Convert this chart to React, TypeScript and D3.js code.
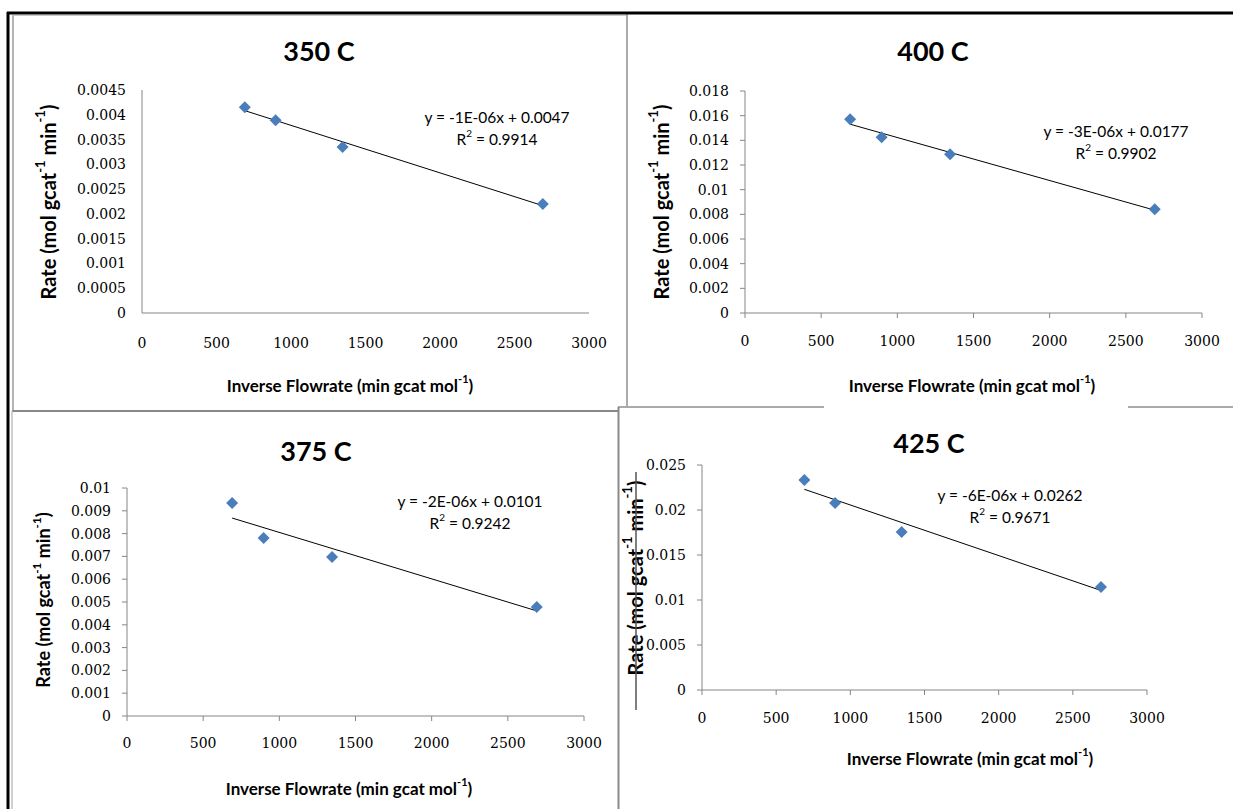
import React from "react";
import * as d3 from "d3";

// ---------- data ----------
const flowrate = [690, 897, 1346, 2690]; // inverse flowrate (min gcat mol-1)
const rate350 = [0.00415, 0.00389, 0.00335, 0.0022];
const rate400 = [0.01571, 0.01425, 0.01287, 0.00842];
const rate375 = [0.00934, 0.00781, 0.00697, 0.00478];
const rate425 = [0.02333, 0.02078, 0.01756, 0.01144];

const xTicks = [0, 500, 1000, 1500, 2000, 2500, 3000];
const yTicks350 = [0, 0.0005, 0.001, 0.0015, 0.002, 0.0025, 0.003, 0.0035, 0.004, 0.0045];
const yTicks400 = [0, 0.002, 0.004, 0.006, 0.008, 0.01, 0.012, 0.014, 0.016, 0.018];
const yTicks375 = [0, 0.001, 0.002, 0.003, 0.004, 0.005, 0.006, 0.007, 0.008, 0.009, 0.01];
const yTicks425 = [0, 0.005, 0.01, 0.015, 0.02, 0.025];

const titles = ["350 C", "400 C", "375 C", "425 C"];
const equations = ["y = -1E-06x + 0.0047", "y = -3E-06x + 0.0177", "y = -2E-06x + 0.0101", "y = -6E-06x + 0.0262"];
const r2Values = ["0.9914", "0.9902", "0.9242", "0.9671"];

// ---------- layout ----------
const layouts = [
  { x0: 142, x1: 589, y0: 313, y1: 90, ticks: false, tx: 319, ty: 50, ex: 497, ey: 117, xlY: 343, xtX: 350, xtY: 385, ytX: 48, ytY: 202, ytSize: 20 },
  { x0: 745, x1: 1202, y0: 313, y1: 91, ticks: true, tx: 933, ty: 50, ex: 1116, ey: 131, xlY: 341, xtX: 972, xtY: 385, ytX: 661, ytY: 202, ytSize: 20 },
  { x0: 127, x1: 584, y0: 716, y1: 488, ticks: true, tx: 316, ty: 450, ex: 470, ey: 501, xlY: 743, xtX: 349, xtY: 788, ytX: 43, ytY: 600, ytSize: 18 },
  { x0: 702, x1: 1147, y0: 690, y1: 465, ticks: true, tx: 929, ty: 442, ex: 1010, ey: 495, xlY: 718, xtX: 970, xtY: 758, ytX: 635, ytY: 578, ytSize: 20 },
];

const panels = [
  { title: titles[0], rates: rate350, yTicks: yTicks350, eq: equations[0], r2: r2Values[0], L: layouts[0] },
  { title: titles[1], rates: rate400, yTicks: yTicks400, eq: equations[1], r2: r2Values[1], L: layouts[1] },
  { title: titles[2], rates: rate375, yTicks: yTicks375, eq: equations[2], r2: r2Values[2], L: layouts[2] },
  { title: titles[3], rates: rate425, yTicks: yTicks425, eq: equations[3], r2: r2Values[3], L: layouts[3] },
];

const AXIS = "#868686";
const MARKER = "#4A7EBB";
const SANS = "Lato, 'Open Sans', sans-serif";
const SERIF = "'DejaVu Serif', serif";

function fit(xs: number[], ys: number[]) {
  const mx = d3.mean(xs) as number;
  const my = d3.mean(ys) as number;
  let sxy = 0, sxx = 0;
  xs.forEach((x, i) => { sxy += (x - mx) * (ys[i] - my); sxx += (x - mx) * (x - mx); });
  const m = sxy / sxx;
  return { m, b: my - m * mx };
}

function Panel({ p }: { p: any }) {
  const L = p.L;
  const x = d3.scaleLinear().domain([0, 3000]).range([L.x0, L.x1]);
  const yMax = p.yTicks[p.yTicks.length - 1];
  const y = d3.scaleLinear().domain([0, yMax]).range([L.y0, L.y1]);
  const { m, b } = fit(flowrate, p.rates);
  const [xa, xb] = d3.extent(flowrate) as [number, number];
  const line = d3.line<[number, number]>().x(d => x(d[0])).y(d => y(d[1]));
  const trend = line([[xa, b + m * xa], [xb, b + m * xb]]) as string;
  const r = 6;
  const diamond = `M0,${-r}L${r},0L0,${r}L${-r},0Z`;
  const ys = L.ytSize;
  return (
    <g>
      <text x={L.tx} y={L.ty} textAnchor="middle" dominantBaseline="central" fontFamily={SANS} fontWeight="bold" fontSize={27}>{p.title}</text>
      {/* axes */}
      <line x1={L.x0} x2={L.x0} y1={y(yMax)} y2={L.y0} stroke={AXIS} strokeWidth={1} />
      <line x1={L.x0} x2={x(3000)} y1={L.y0} y2={L.y0} stroke={AXIS} strokeWidth={1} />
      {p.yTicks.map((t: number) => (
        <g key={"y" + t}>
          {L.ticks && <line x1={L.x0 - 5} x2={L.x0} y1={y(t)} y2={y(t)} stroke={AXIS} />}
          <text x={L.x0 - 16} y={y(t)} textAnchor="end" dominantBaseline="central" fontFamily={SERIF} fontSize={14}>{String(+t.toPrecision(6))}</text>
        </g>
      ))}
      {xTicks.map(t => (
        <g key={"x" + t}>
          {L.ticks && <line x1={x(t)} x2={x(t)} y1={L.y0} y2={L.y0 + 5} stroke={AXIS} />}
          <text x={x(t)} y={L.xlY} textAnchor="middle" dominantBaseline="central" fontFamily={SERIF} fontSize={14}>{t}</text>
        </g>
      ))}
      {/* trendline */}
      <path d={trend} stroke="#000" strokeWidth={1} fill="none" />
      {/* points */}
      {flowrate.map((f, i) => (
        <path key={i} d={diamond} transform={`translate(${x(f)},${y(p.rates[i])})`} fill={MARKER} />
      ))}
      {/* equation */}
      <text x={L.ex} y={L.ey} textAnchor="middle" dominantBaseline="central" fontFamily={SANS} fontSize={15.5}>{p.eq}</text>
      <text x={L.ex} y={L.ey + 22} textAnchor="middle" dominantBaseline="central" fontFamily={SANS} fontSize={15.5}>
        R<tspan dy={-6} fontSize={10}>2</tspan><tspan dy={6}> = {p.r2}</tspan>
      </text>
      {/* axis titles */}
      <text x={L.xtX} y={L.xtY} textAnchor="middle" dominantBaseline="central" fontFamily={SANS} fontWeight="bold" fontSize={17}>
        Inverse Flowrate (min gcat mol<tspan dy={-7} fontSize={11}>-1</tspan><tspan dy={7}>)</tspan>
      </text>
      <text transform={`translate(${L.ytX},${L.ytY}) rotate(-90)`} textAnchor="middle" dominantBaseline="central" fontFamily={SANS} fontWeight="bold" fontSize={ys}>
        Rate (mol gcat<tspan dy={-ys * 0.38} fontSize={ys * 0.65}>-1</tspan><tspan dy={ys * 0.38}> min</tspan><tspan dy={-ys * 0.38} fontSize={ys * 0.65}>-1</tspan><tspan dy={ys * 0.38}>)</tspan>
      </text>
    </g>
  );
}

export default function App() {
  return (
    <svg width={1233} height={809} style={{ position: "absolute", left: 0, top: 0, background: "#fff" }}>
      <rect x={0} y={0} width={1233} height={809} fill="#fff" />
      {/* panel frames */}
      <line x1={13} x2={13} y1={15} y2={411} stroke="#b5b5b5" strokeWidth={2} />
      <line x1={13} x2={627} y1={15.5} y2={15.5} stroke="#c8c8c8" strokeWidth={1} />
      <line x1={627} x2={627} y1={13} y2={407} stroke="#aaaaaa" strokeWidth={2} />
      <line x1={12} x2={619} y1={411} y2={411} stroke="#888888" strokeWidth={2} />
      <line x1={618} x2={824} y1={407} y2={407} stroke="#aaaaaa" strokeWidth={2} />
      <line x1={1128} x2={1233} y1={407} y2={407} stroke="#aaaaaa" strokeWidth={2} />
      <line x1={618.5} x2={618.5} y1={407} y2={809} stroke="#8a8a8a" strokeWidth={2} />
      <line x1={12} x2={12} y1={411} y2={809} stroke="#c0c0c0" strokeWidth={1.5} />
      {/* outer black border */}
      <line x1={7} x2={1233} y1={13} y2={13} stroke="#000" strokeWidth={3} />
      <line x1={8} x2={8} y1={12} y2={809} stroke="#000" strokeWidth={3} />
      {panels.map((p, i) => <Panel key={i} p={p} />)}
      {/* stray line across 425 C axis title */}
      <line x1={636} x2={636} y1={472} y2={710} stroke="#555" strokeWidth={1.5} />
    </svg>
  );
}
